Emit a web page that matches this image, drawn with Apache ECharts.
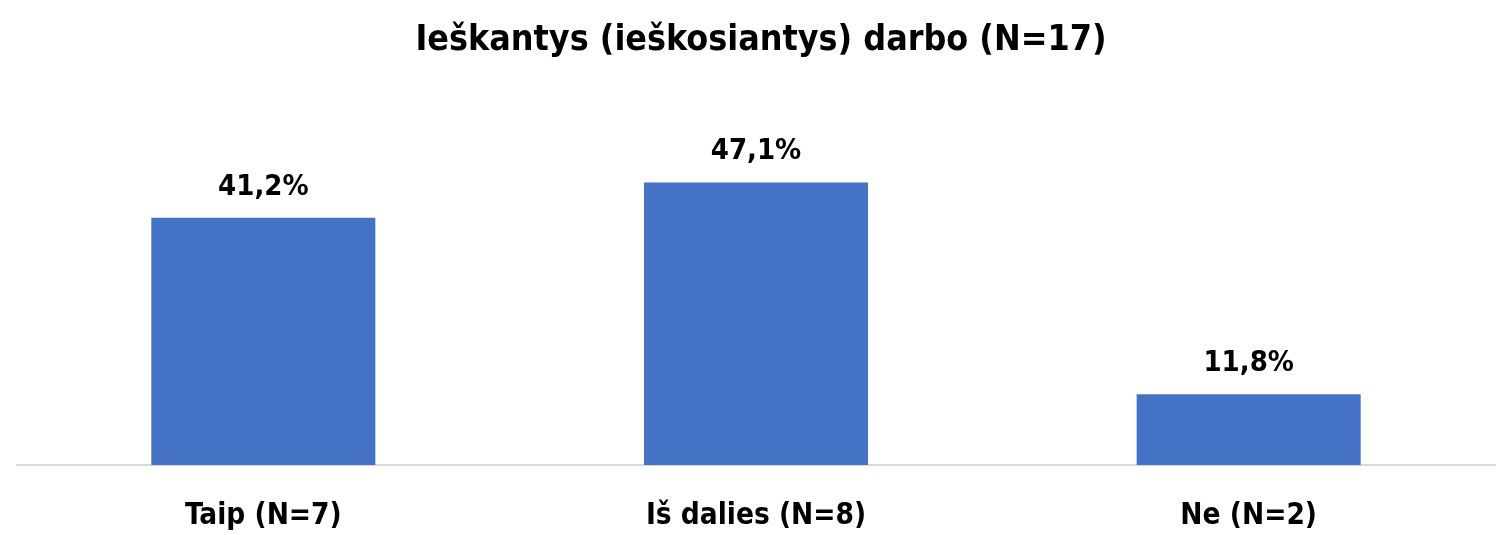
<!DOCTYPE html>
<html>
<head>
<meta charset="utf-8">
<script src="https://cdn.jsdelivr.net/npm/echarts@6/dist/echarts.min.js"></script>
<style>
  html, body { margin: 0; padding: 0; background: #fff; }
  #chart { width: 1503px; height: 535px; }
</style>
</head>
<body>
<div id="chart"></div>
<script>
// duomenys
const titleText = 'Ieškantys (ieškosiantys) darbo (N=17)'
const categories = ['Taip (N=7)', 'Iš dalies (N=8)', 'Ne (N=2)']
const shares = [41.2, 47.1, 11.8]

const FONT = '"DejaVu Sans Condensed", "Liberation Sans Narrow", sans-serif'

const chart = echarts.init(document.getElementById('chart'))

chart.setOption({
  animation: false,
  title: {
    text: titleText,
    left: 756,
    top: 18,
    textAlign: 'center',
    textStyle: { fontFamily: FONT, fontSize: 35.5, fontWeight: 'bold', color: '#000' },
  },
  grid: { left: 17, right: 8, top: 165, bottom: 70 },
  xAxis: {
    type: 'category',
    data: categories,
    axisLine: { lineStyle: { color: '#d9d9d9', width: 2 } },
    axisTick: { show: false },
    axisLabel: {
      margin: 36,
      fontFamily: FONT,
      fontSize: 29.5,
      fontWeight: 'bold',
      color: '#000',
    },
  },
  yAxis: { type: 'value', min: 0, max: 50, show: false },
  series: [
    {
      type: 'bar',
      data: shares,
      barWidth: 224,
      itemStyle: { color: '#4472C4' },
      label: {
        show: true,
        position: 'top',
        distance: 16,
        fontFamily: FONT,
        fontSize: 29,
        fontWeight: 'bold',
        color: '#000',
        // kablelis kaip dešimtainis skirtukas
        formatter: (p) => p.value.toFixed(1).replace('.', ',') + '%',
      },
    },
  ],
})

window.addEventListener('resize', () => chart.resize())
</script>
</body>
</html>
